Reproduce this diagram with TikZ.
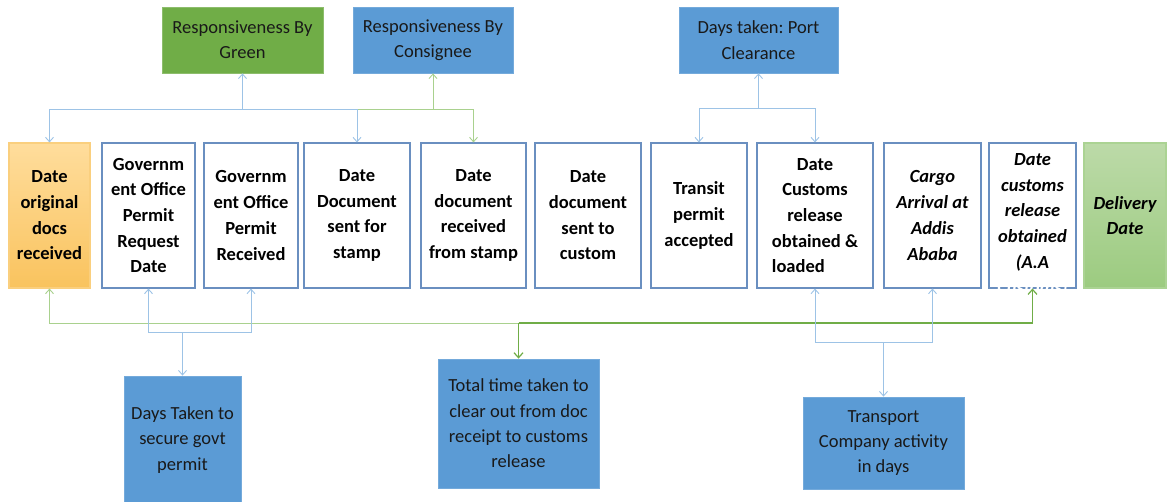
\documentclass[tikz,border=0pt]{standalone}
\usepackage{fontspec}
\setmainfont{Carlito}
\usetikzlibrary{arrows.meta}
\frenchspacing

\definecolor{boxblue}{HTML}{5B9BD5}
\definecolor{boxgreen}{HTML}{70AD47}
\definecolor{rowedge}{HTML}{6A8FC0}
\definecolor{linkblue}{HTML}{9DC3E6}
\definecolor{linkgreen}{HTML}{A9D18E}
\definecolor{darkgreen}{HTML}{70AD47}
\definecolor{amberTop}{HTML}{FFDD9C}
\definecolor{amberBot}{HTML}{F9C35E}
\definecolor{sageTop}{HTML}{BCDAA8}
\definecolor{sageBot}{HTML}{9CCB80}

\tikzset{
  tip/.tip={Straight Barb[length=4.5pt,width=8pt]},
  bigtip/.tip={Straight Barb[length=5pt,width=9pt,line width=1.2pt]},
  rowbox/.style={draw=rowedge, line width=1.1pt, fill=white, minimum height=145pt,
    inner sep=0pt, align=center, text=black,
    font=\fontsize{18.5}{25.7}\selectfont\bfseries},
  itbox/.style={rowbox, font=\fontsize{18.5}{25.7}\selectfont\bfseries\itshape},
  infobox/.style={fill=boxblue, draw=boxblue!85!white, line width=0.8pt, inner sep=0pt,
    align=center, text=black!90, font=\fontsize{18.5}{25.3}\selectfont},
  greenbox/.style={infobox, fill=boxgreen, draw=boxgreen!80!white},
  blink/.style={draw=linkblue, line width=0.9pt},
  glink/.style={draw=linkgreen, line width=0.9pt},
  dlink/.style={draw=darkgreen, line width=1.5pt},
}

\begin{document}
\begin{tikzpicture}[x=1pt, y=-1pt, >=tip]
\useasboundingbox (0,0) rectangle (1167,501);

% bus levels of the connectors
\coordinate (topbus) at (0,109);
\coordinate (portbus) at (0,108);
\coordinate (grnbus) at (0,323);
\coordinate (govbus) at (0,332);
\coordinate (trbus) at (0,342);

% measures reported above the row
\node[greenbox, minimum width=161pt, minimum height=66pt] (green) at (242.5,40)
  {Responsiveness By\\Green};
\node[infobox, minimum width=160pt, minimum height=66pt] (consig) at (433,40)
  {Responsiveness By\\Consignee};
\node[infobox, minimum width=159pt, minimum height=66pt] (port) at (758.5,40)
  {Days taken: Port\\Clearance};

% the row of milestone dates
\shade[top color=amberTop, bottom color=amberBot] (9,143) rectangle (90,288);
\node[rowbox, draw=amberBot!80!white, fill=none, minimum width=81pt] (orig) at (49.5,215.5)
  {Date\\original\\docs\\received};
\node[rowbox, minimum width=93pt] (req) at (148.5,215.5)
  {Governm\\ent Office\\Permit\\Request\\Date};
\node[rowbox, minimum width=94pt] (recv) at (251,215.5)
  {Governm\\ent Office\\Permit\\Received};
\node[rowbox, minimum width=106pt] (stampout) at (357,215.5)
  {Date\\Document\\sent for\\stamp};
\node[rowbox, minimum width=105pt] (stampin) at (473.5,215.5)
  {Date\\document\\received\\from stamp};
\node[rowbox, minimum width=106pt] (tocustom) at (588,215.5)
  {Date\\document\\sent to\\custom};
\node[rowbox, minimum width=96pt] (transit) at (699,215.5)
  {Transit\\permit\\accepted};
\node[rowbox, minimum width=116pt] (loaded) at (815,215.5)
  {Date\\Customs\\release\\obtained \&\\\makebox[0pt][l]{loaded}\phantom{obtained \&}};
\node[itbox, minimum width=97pt] (cargo) at (932.5,215.5)
  {Cargo\\Arrival at\\Addis\\Ababa};
\node[itbox, minimum width=87pt] (aa) at (1032.5,215.5) {};
\node[align=center, inner sep=0pt, font=\fontsize{18.5}{25.7}\selectfont\bfseries\itshape]
  (aatxt) at ([yshift=-9.5pt]aa.center)
  {Date\\customs\\release\\obtained\\(A.A\\\textcolor{white}{Customs)}};
\shade[top color=sageTop, bottom color=sageBot] (1084,143) rectangle (1166,288);
\node[itbox, draw=sageBot!85!white, fill=none, minimum width=82pt] (delivery) at (1125,215.5)
  {Delivery\\Date};

% measures reported below the row
\node[infobox, minimum width=117pt, minimum height=128pt] (days) at (182.5,440)
  {Days Taken to\\secure govt\\permit};
\node[infobox, minimum width=161pt, minimum height=129pt] (total) at (518.5,423.5)
  {Total time taken to\\clear out from doc\\receipt to customs\\release};
\node[infobox, minimum width=161pt, minimum height=92pt] (transport) at (883.5,443)
  {Transport\\Company activity\\in days};

% connectors above the row
\draw[glink, <->] (consig.south) -- (consig.south |- topbus) -| (stampin.north);
\draw[glink] (consig.south |- topbus) -- (stampout.north |- topbus);
\draw[blink, <->] (green.south) -- (green.south |- topbus) -| (orig.north);
\draw[blink, ->] (green.south |- topbus) -| (stampout.north);
\draw[blink, <->] (port.south) -- (port.south |- portbus) -| (transit.north);
\draw[blink, ->] (port.south |- portbus) -| (loaded.north);

% connectors below the row
\draw[glink, <-] (orig.south) -- (orig.south |- grnbus) -- (total.north |- grnbus);
\draw[dlink, ->, >=bigtip] (total.north |- grnbus) -| (aa.south);
\draw[dlink, ->, >=bigtip] (total.north |- grnbus) -- (total.north);
\draw[blink, <->] (req.south) -- (req.south |- govbus) -| (recv.south);
\draw[blink, ->] (days.north |- govbus) -- (days.north);
\draw[blink, <->] (loaded.south) -- (loaded.south |- trbus) -| (cargo.south);
\draw[blink, ->] (transport.north |- trbus) -- (transport.north);
\end{tikzpicture}
\end{document}
